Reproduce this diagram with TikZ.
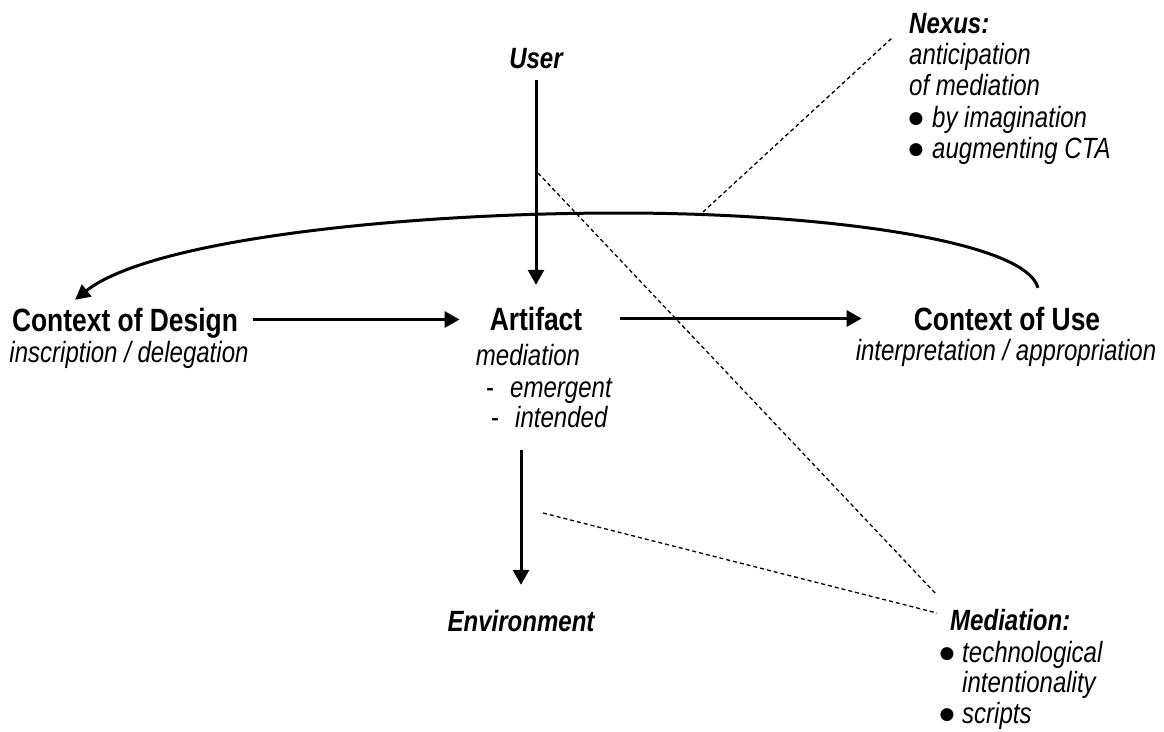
\documentclass[tikz,border=0pt]{standalone}
\usepackage{fontspec}
\setmainfont{Liberation Sans}[FakeStretch=0.82]
\newfontfamily\symbolsans{DejaVu Sans}
\usetikzlibrary{arrows.meta}
\begin{document}
\begin{tikzpicture}[x=1pt,y=-1pt,
  lbl/.style={inner sep=0pt, anchor=base, text depth=0pt},
  ttl/.style={lbl, font=\bfseries\fontsize{32.2}{36}\selectfont, text height=23pt},
  bit/.style={lbl, font=\bfseries\itshape\fontsize{29.3}{34}\selectfont, text height=21pt},
  itl/.style={lbl, font=\itshape\fontsize{29.3}{34}\selectfont, text height=21pt},
  hyph/.style={lbl, font=\fontsize{29.3}{34}\selectfont},
  bul/.style={lbl, font=\symbolsans\fontsize{17}{20}\selectfont},
  arr/.style={line width=3pt, -{Triangle[length=15pt,width=16pt]}},
  link/.style={line width=1.3pt, dash pattern=on 4pt off 3pt},
]
\useasboundingbox (0,0) rectangle (1164,731);

% main concepts
\node[bit] (user) at (536,68) {User};
\node[ttl] (design) at (125,331) {Context of Design};
\node[itl] (designsub) at (129,362) {inscription / delegation};
\node[ttl] (art) at (536,330) {Artifact};
\node[itl] (artmed) at (528,365) {mediation};
\node[hyph] (d1) at (490,397) {-};
\node[itl, anchor=base west] (emer) at (510,397) {emergent};
\node[hyph] (d2) at (495,427) {-};
\node[itl, anchor=base west] (int) at (515,427) {intended};
\node[ttl] (use) at (1007,330) {Context of Use};
\node[itl] (usesub) at (1006,360) {interpretation / appropriation};
\node[bit] (env) at (521,631) {Environment};

% annotation: nexus
\node[bit, anchor=base west] (nexus) at (909,33) {Nexus:};
\node[itl, anchor=base west] (nx1) at (909,64) {anticipation};
\node[itl, anchor=base west] (nx2) at (909,95) {of mediation};
\node[bul] (nb1) at (916,123) {●};
\node[itl, anchor=base west] (nx3) at (932,127) {by imagination};
\node[bul] (nb2) at (916,154) {●};
\node[itl, anchor=base west] (nx4) at (932,158) {augmenting CTA};

% annotation: mediation
\node[bit, anchor=base west] (medt) at (950,630) {Mediation:};
\node[bul] (mb1) at (947,658) {●};
\node[itl, anchor=base west] (md1) at (962,662) {technological};
\node[itl, anchor=base west] (md2) at (962,692) {intentionality};
\node[bul] (mb2) at (947,719) {●};
\node[itl, anchor=base west] (md3) at (962,723) {scripts};

% arrows
\draw[arr, shorten <=12pt, shorten >=22pt] (user.south) -- (user.south |- art.north);
\draw[arr, shorten <=15pt, shorten >=30pt] (design.east) -- (design.east -| art.west);
\draw[arr, shorten <=38pt, shorten >=52pt] (art.east) -- (art.east -| use.west);
\draw[arr, shorten <=23pt, shorten >=25pt] (int.south -| env.north) -- (env.north);

% feedback from use back to design
\draw[line width=3pt, -{Triangle[length=15pt,width=15pt]}]
  ([xshift=31pt,yshift=19pt]use.north)
  .. controls (1025,240) and (820,213) .. (620,213)
  .. controls (400,213) and (150,240) .. ([xshift=-50pt,yshift=8pt]design.north);

% dashed pointers to the annotations
\coordinate (nxfoot) at (703,212);
\coordinate (ufoot) at (538,173);
\coordinate (efoot) at (543,513);
\draw[link] (nxfoot) -- ([xshift=-17pt,yshift=-5pt]nexus.base west);
\draw[link] (ufoot) -- ([xshift=-13pt,yshift=35pt]medt.base west);
\draw[link] (efoot) -- ([xshift=-13pt,yshift=17pt]medt.base west);
\end{tikzpicture}
\end{document}
